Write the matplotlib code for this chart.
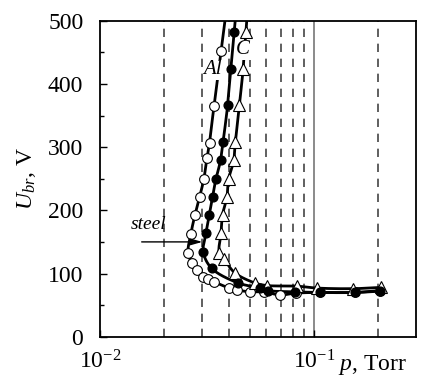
import numpy as np
import matplotlib
matplotlib.use('Agg')
import matplotlib.pyplot as plt
from matplotlib.ticker import MultipleLocator, NullLocator, FixedLocator

plt.rcParams['font.family'] = ['Liberation Serif', 'DejaVu Serif']
plt.rcParams['mathtext.fontset'] = 'custom'
plt.rcParams['mathtext.rm'] = 'Liberation Serif'
plt.rcParams['mathtext.it'] = 'Liberation Serif:italic'

# Al (open circles)
al_p = [0.0368, 0.0341, 0.0325, 0.0316, 0.0306, 0.0292, 0.0278, 0.0266, 0.0258, 0.0269,
        0.0284, 0.0303, 0.0320, 0.0341, 0.0401, 0.0437, 0.0502, 0.0584, 0.0694, 0.0824,
        0.1067, 0.1555, 0.2033]
al_u = [452, 365, 307, 282, 250, 221, 193, 163, 133, 117,
        106, 95, 91, 87, 77, 74, 71, 71, 66, 69,
        70, 70, 72]

# steel (filled circles)
st_p = [0.0424, 0.0409, 0.0395, 0.0376, 0.0366, 0.0348, 0.0336, 0.0324, 0.0313, 0.0304,
        0.0333, 0.0443, 0.0559, 0.0610, 0.0815, 0.1067, 0.1555, 0.2033]
st_u = [482, 423, 366, 308, 279, 249, 221, 193, 164, 134,
        108, 85, 77, 73, 71, 70, 70, 73]

# C (open triangles)
c_p = [0.0481, 0.0467, 0.0448, 0.0429, 0.0422, 0.0399, 0.0392, 0.0374, 0.0368, 0.0361,
       0.0380, 0.0427, 0.0530, 0.0601, 0.0833, 0.1029, 0.1516, 0.2050]
c_u = [482, 424, 366, 308, 279, 249, 221, 193, 164, 133,
       123, 101, 85, 81, 80, 77, 76, 78]

dashed_p = [0.02, 0.03, 0.04, 0.05, 0.06, 0.07, 0.08, 0.09, 0.2]

SX, SY = 214.0, 0.632  # px per decade, px per volt (for smoothing)


def smooth(xs, ys, n=16):
    # extend the curve past the top of the plot along the last segment
    P = np.column_stack([np.log10(xs) * SX, np.asarray(ys, float) * SY])
    d = P[0] - P[1]
    top = P[0] + d * (530 * SY - P[0, 1]) / d[1]
    P = np.vstack([top, P])
    P = np.vstack([2 * P[0] - P[1], P, 2 * P[-1] - P[-2]])
    out = []
    for i in range(1, len(P) - 2):
        p0, p1, p2, p3 = P[i - 1:i + 3]
        t0 = 0.0
        t1 = t0 + max(np.linalg.norm(p1 - p0), 1e-6) ** 0.5
        t2 = t1 + max(np.linalg.norm(p2 - p1), 1e-6) ** 0.5
        t3 = t2 + max(np.linalg.norm(p3 - p2), 1e-6) ** 0.5
        t = np.linspace(t1, t2, n)[:, None]
        a1 = (t1 - t) / (t1 - t0) * p0 + (t - t0) / (t1 - t0) * p1
        a2 = (t2 - t) / (t2 - t1) * p1 + (t - t1) / (t2 - t1) * p2
        a3 = (t3 - t) / (t3 - t2) * p2 + (t - t2) / (t3 - t2) * p3
        b1 = (t2 - t) / (t2 - t0) * a1 + (t - t0) / (t2 - t0) * a2
        b2 = (t3 - t) / (t3 - t1) * a2 + (t - t1) / (t3 - t1) * a3
        c = (t2 - t) / (t2 - t1) * b1 + (t - t1) / (t2 - t1) * b2
        out.append(c)
    C = np.vstack(out)
    return 10 ** (C[:, 0] / SX), C[:, 1] / SY


fig = plt.figure(figsize=(4.21, 3.78), dpi=100)
ax = fig.add_axes([100 / 421, 1 - 336.7 / 378, 316 / 421, 316 / 378])

for p in dashed_p:
    ax.axvline(p, color='#444444', lw=1.2, ls=(0, (5, 4)), zorder=1)
ax.axvline(0.1, color='#777777', lw=1.2, zorder=1)

for xs, ys in [(al_p, al_u), (c_p, c_u), (st_p, st_u)]:
    sx, sy = smooth(xs, ys)
    ax.plot(sx, sy, color='black', lw=2.0, zorder=2, solid_capstyle='round')

ax.plot(al_p, al_u, ls='none', marker='o', ms=7, mfc='white', mec='black', mew=0.8, zorder=3)
ax.plot(c_p, c_u, ls='none', marker='^', ms=8, mfc='white', mec='black', mew=0.8, zorder=4)
ax.plot(st_p, st_u, ls='none', marker='o', ms=6.3, mfc='black', mec='black', zorder=5)

ax.text(0.0337, 422, 'Al', fontsize=15, style='italic', ha='center', va='center',
        bbox=dict(fc='white', ec='none', pad=0.5), zorder=6)
ax.text(0.0466, 454, 'C', fontsize=15, style='italic', ha='center', va='center',
        bbox=dict(fc='white', ec='none', pad=0.5), zorder=6)
ax.text(0.0168, 178, 'steel', fontsize=14, style='italic', ha='center', va='center', zorder=6)
ax.annotate('', xy=(0.0310, 150), xytext=(0.0152, 150),
            arrowprops=dict(arrowstyle='-|>,head_length=0.7,head_width=0.2',
                            color='black', lw=1.0), zorder=6)

ax.set_xscale('log')
ax.set_xlim(0.01, 0.3)
ax.set_ylim(0, 500)
ax.xaxis.set_major_locator(FixedLocator([0.01, 0.1]))
ax.xaxis.set_minor_locator(NullLocator())
ax.yaxis.set_major_locator(MultipleLocator(100))
ax.yaxis.set_minor_locator(MultipleLocator(50))
ax.tick_params(direction='in', labelsize=17, length=5, width=1)
ax.tick_params(which='minor', direction='in', length=3, width=1)
ax.tick_params(axis='y', pad=12)
ax.tick_params(axis='x', pad=10)
for s in ax.spines.values():
    s.set_linewidth(1.3)

ax.set_ylabel('$U_{br}$, V', fontsize=17, labelpad=7)
ax.text(0.97, -0.09, '$p$, Torr', transform=ax.transAxes, fontsize=17,
        ha='right', va='center')

fig.savefig('out.png', dpi=100)
